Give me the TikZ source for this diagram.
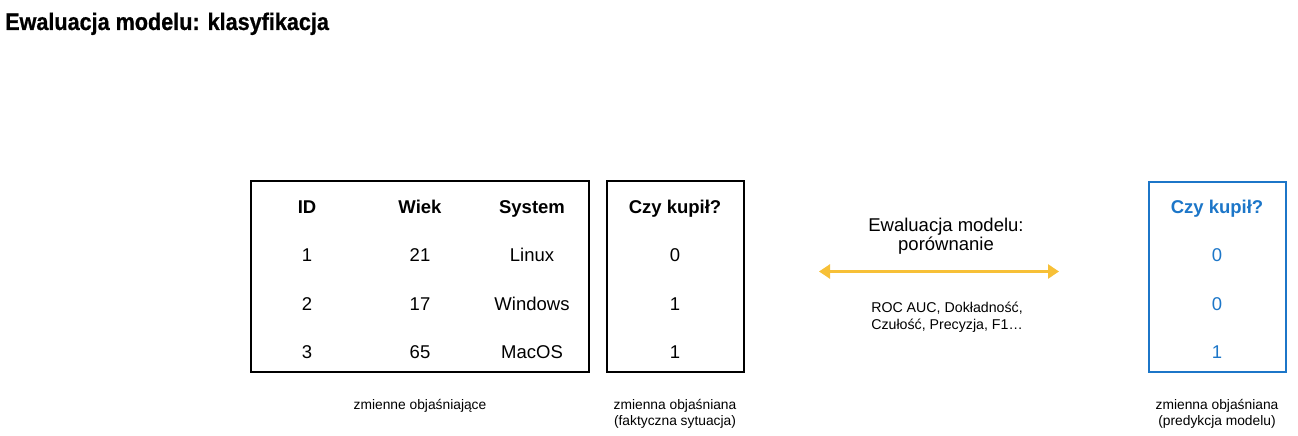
\documentclass[tikz,border=0pt]{standalone}
\usepackage{fontspec}
\setmainfont{Liberation Sans}
\newfontfamily\titlefont[FakeStretch=0.9,FakeBold=0.8]{Liberation Sans Bold}
\usetikzlibrary{arrows.meta}
\definecolor{predblue}{RGB}{28,118,200}
\definecolor{evalgold}{RGB}{247,192,55}
\tikzset{
  cell/.style={anchor=base,inner sep=0pt,font=\fontsize{18.5}{21}\selectfont},
  head/.style={cell,font=\fontsize{18.5}{21}\selectfont\bfseries},
  small/.style={anchor=base,inner sep=0pt,align=center,font=\fontsize{13.8}{15.5}\selectfont},
  tablebox/.style={draw=black,line width=2pt},
}
\begin{document}
\begin{tikzpicture}[x=1pt,y=-1pt]
\useasboundingbox (0,0) rectangle (1298,436);
\node[anchor=base west,inner sep=0pt,font=\fontsize{24}{26}\titlefont] (title) at (5,30) {Ewaluacja modelu: klasyfikacja};
% boxes
\draw[tablebox] (251,181) rectangle (589,372);
\draw[tablebox] (607,181) rectangle (744,372);
\draw[draw=predblue,line width=2.5pt] (1149,182) rectangle (1286,372);
% table 1
\node[head] (hid) at (307,213) {ID};
\node[head] (hwiek) at (420,213) {Wiek};
\node[head] (hsys) at (532,213) {System};
\node[cell] (id1) at (307,261) {1};
\node[cell] (w1) at (420,261) {21};
\node[cell] (s1) at (532,261) {Linux};
\node[cell] (id2) at (307,310) {2};
\node[cell] (w2) at (420,310) {17};
\node[cell] (s2) at (532,310) {Windows};
\node[cell] (id3) at (307,358) {3};
\node[cell] (w3) at (420,358) {65};
\node[cell] (s3) at (532,358) {MacOS};
% table 2
\node[head] (hk) at (675,213) {Czy kupił?};
\node[cell] (k1) at (675,261) {0};
\node[cell] (k2) at (675,310) {1};
\node[cell] (k3) at (675,358) {1};
% table 3
\node[head,text=predblue] (hp) at (1217,213) {Czy kupił?};
\node[cell,text=predblue] (p1) at (1217,261) {0};
\node[cell,text=predblue] (p2) at (1217,310) {0};
\node[cell,text=predblue] (p3) at (1217,358) {1};
% middle
\node[cell,align=center,font=\fontsize{18.5}{18.5}\selectfont] (ev) at (946,250) {Ewaluacja modelu:\\porównanie};
\coordinate (al) at (819,271.5);
\coordinate (ar) at (1059,271.5);
\draw[evalgold,line width=2.5pt,{Triangle[length=11pt,width=14pt]}-{Triangle[length=11pt,width=14pt]}] (al) -- (ar);
\node[small,font=\fontsize{14.2}{16.5}\selectfont] (met) at (947,329) {ROC AUC, Dokładność,\\Czułość, Precyzja, F1…};
% captions
\node[small] (c1) at (420,409) {zmienne objaśniające};
\node[small] (c2) at (675,425) {zmienna objaśniana\\(faktyczna sytuacja)};
\node[small] (c3) at (1217,425) {zmienna objaśniana\\(predykcja modelu)};
\end{tikzpicture}
\end{document}
